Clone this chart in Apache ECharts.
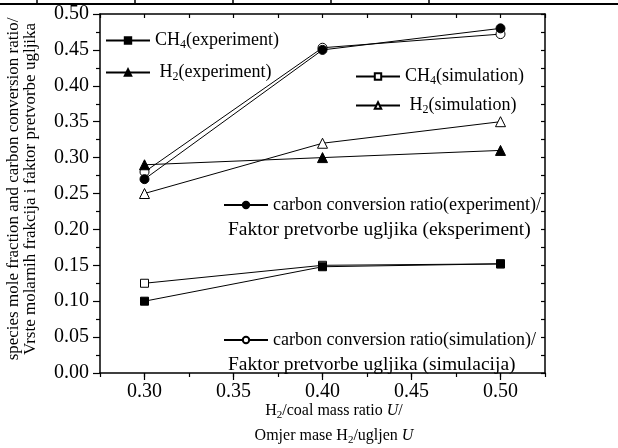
<!DOCTYPE html>
<html>
<head>
<meta charset="utf-8">
<script src="https://cdn.jsdelivr.net/npm/echarts@6/dist/echarts.min.js"></script>
<style>
html, body { margin: 0; padding: 0; background: #fff; }
#chart { width: 618px; height: 448px; }
</style>
</head>
<body>
<div id="chart"></div>
<script>
// H2/coal mass ratio U
const ratios = [0.30, 0.40, 0.50];

// species mole fractions
const ch4Experiment = [0.100, 0.148, 0.152];
const h2Experiment = [0.290, 0.300, 0.310];
const ch4Simulation = [0.125, 0.150, 0.152];
const h2Simulation = [0.250, 0.320, 0.350];

// carbon conversion ratio
const carbonExperiment = [0.270, 0.450, 0.480];
const carbonSimulation = [0.280, 0.453, 0.472];

// labelled ticks on the ratio axis
const xTickValues = [0.30, 0.35, 0.40, 0.45, 0.50];

const FONT = 'Liberation Serif';
const BLACK = '#000';

const rich = {
  t: { fontFamily: FONT, fontSize: 18, color: BLACK, lineHeight: 22 },
  s: { fontFamily: FONT, fontSize: 12, color: BLACK, lineHeight: 22, padding: [9, 0, 0, 0] },
  ti: { fontFamily: FONT, fontSize: 16, color: BLACK, lineHeight: 22 },
  si: { fontFamily: FONT, fontSize: 11, color: BLACK, lineHeight: 22, padding: [8, 0, 0, 0] },
  it: { fontFamily: FONT, fontSize: 16, color: BLACK, fontStyle: 'italic', lineHeight: 22 }
};

const names = {
  ch4Exp: 'CH4(experiment)',
  h2Exp: 'H2(experiment)',
  ch4Sim: 'CH4(simulation)',
  h2Sim: 'H2(simulation)',
  cExp: 'carbon conversion ratio(experiment)/',
  cSim: 'carbon conversion ratio(simulation)/'
};

const legendText = {};
legendText[names.ch4Exp] = '{t|CH}{s|4}{t|(experiment)}';
legendText[names.h2Exp] = '{t| H}{s|2}{t|(experiment)}';
legendText[names.ch4Sim] = '{t|CH}{s|4}{t|(simulation)}';
legendText[names.h2Sim] = '{t| H}{s|2}{t|(simulation)}';
legendText[names.cExp] = '{t|carbon conversion ratio(experiment)/}';
legendText[names.cSim] = '{t|carbon conversion ratio(simulation)/}';

function pairs(vals) {
  return ratios.map((r, i) => [r, vals[i]]);
}

function lineSeries(name, vals, symbol, size, filled) {
  return {
    name: name,
    type: 'line',
    data: pairs(vals),
    symbol: symbol,
    symbolSize: size,
    showSymbol: true,
    lineStyle: { color: BLACK, width: 1 },
    itemStyle: filled
      ? { color: BLACK, borderColor: BLACK, borderWidth: 1 }
      : { color: '#fff', borderColor: BLACK, borderWidth: 1 },
    emphasis: { disabled: true },
    z: filled ? 3 : 2
  };
}

function legendAt(name, left, top) {
  return {
    data: [name],
    left: left,
    top: top,
    orient: 'horizontal',
    itemWidth: 44,
    itemHeight: 8,
    padding: 0,
    selectedMode: false,
    formatter: (n) => legendText[n],
    textStyle: { fontFamily: FONT, fontSize: 18, color: BLACK, rich: rich }
  };
}

const axisLine = { show: true, lineStyle: { color: BLACK, width: 1.5 } };
const tickStyle = { color: BLACK, width: 1.2 };

const option = {
  backgroundColor: '#fff',
  animation: false,
  grid: { left: 100, right: 73, top: 14, bottom: 75 },
  xAxis: [
    {
      type: 'value', position: 'bottom', min: 0.275, max: 0.525, interval: 0.025,
      axisLine: axisLine,
      axisTick: { show: true, inside: false, length: 4, lineStyle: tickStyle },
      axisLabel: { show: false },
      splitLine: { show: false }
    },
    {
      type: 'value', position: 'bottom', min: 0.275, max: 0.525,
      axisLine: { show: false },
      axisTick: { show: true, inside: false, length: 7, customValues: xTickValues, lineStyle: tickStyle },
      axisLabel: {
        show: true, customValues: xTickValues, margin: 9,
        formatter: (v) => v.toFixed(2),
        fontFamily: FONT, fontSize: 20, color: BLACK
      },
      splitLine: { show: false }
    },
    {
      type: 'value', position: 'top', min: 0.275, max: 0.525, interval: 0.025,
      axisLine: axisLine,
      axisTick: { show: true, inside: true, length: 4, lineStyle: tickStyle },
      axisLabel: { show: false },
      splitLine: { show: false }
    }
  ],
  yAxis: [
    {
      type: 'value', position: 'left', min: 0, max: 0.5, interval: 0.05,
      axisLine: axisLine,
      axisTick: { show: true, inside: false, length: 7, lineStyle: tickStyle },
      minorTick: { show: true, splitNumber: 2, length: 4, lineStyle: tickStyle },
      axisLabel: {
        show: true, margin: 11,
        formatter: (v) => v.toFixed(2),
        fontFamily: FONT, fontSize: 20, color: BLACK
      },
      splitLine: { show: false },
      minorSplitLine: { show: false }
    },
    {
      type: 'value', position: 'right', min: 0, max: 0.5, interval: 0.025,
      axisLine: axisLine,
      axisTick: { show: true, inside: true, length: 4, lineStyle: tickStyle },
      axisLabel: { show: false },
      splitLine: { show: false }
    }
  ],
  legend: [
    legendAt(names.ch4Exp, 105, 30),
    legendAt(names.h2Exp, 105, 62),
    legendAt(names.ch4Sim, 355, 66),
    legendAt(names.h2Sim, 355, 95),
    legendAt(names.cExp, 223, 196),
    legendAt(names.cSim, 223, 331)
  ],
  series: [
    lineSeries(names.ch4Exp, ch4Experiment, 'rect', 8, true),
    lineSeries(names.h2Exp, h2Experiment, 'triangle', 10, true),
    lineSeries(names.ch4Sim, ch4Simulation, 'rect', 8, false),
    lineSeries(names.h2Sim, h2Simulation, 'triangle', 10, false),
    lineSeries(names.cExp, carbonExperiment, 'circle', 9, true),
    lineSeries(names.cSim, carbonSimulation, 'circle', 9, false)
  ],
  graphic: [
    // rule across the top edge with its short dividers
    { type: 'line', shape: { x1: 0, y1: 4, x2: 618, y2: 4 }, style: { stroke: BLACK, lineWidth: 2 }, silent: true },
    { type: 'line', shape: { x1: 37, y1: 0, x2: 37, y2: 4 }, style: { stroke: BLACK, lineWidth: 1.5 }, silent: true },
    { type: 'line', shape: { x1: 135, y1: 0, x2: 135, y2: 4 }, style: { stroke: BLACK, lineWidth: 1.5 }, silent: true },
    { type: 'line', shape: { x1: 233, y1: 0, x2: 233, y2: 4 }, style: { stroke: BLACK, lineWidth: 1.5 }, silent: true },
    { type: 'line', shape: { x1: 331, y1: 0, x2: 331, y2: 4 }, style: { stroke: BLACK, lineWidth: 1.5 }, silent: true },
    { type: 'line', shape: { x1: 429, y1: 0, x2: 429, y2: 4 }, style: { stroke: BLACK, lineWidth: 1.5 }, silent: true },
    // second lines of the carbon conversion legend entries
    {
      type: 'text', left: 228, top: 220, silent: true,
      style: { text: 'Faktor pretvorbe ugljika (eksperiment)', fontFamily: FONT, fontSize: 19.5, fill: BLACK }
    },
    {
      type: 'text', left: 228, top: 355, silent: true,
      style: { text: 'Faktor pretvorbe ugljika (simulacija)', fontFamily: FONT, fontSize: 19.5, fill: BLACK }
    },
    // y-axis title
    {
      type: 'text', x: 22, y: 189, rotation: Math.PI / 2, silent: true,
      style: {
        text: 'species mole fraction and carbon conversion ratio/\nVrste molarnih frakcija i faktor pretvorbe ugljika',
        fontFamily: FONT, fontSize: 17, lineHeight: 17, fill: BLACK,
        align: 'center', verticalAlign: 'middle'
      }
    },
    // x-axis title
    {
      type: 'text', x: 334, y: 411, silent: true,
      style: {
        text: '{ti|H}{si|2}{ti|/coal mass ratio }{it|U}{ti|/}',
        rich: rich, align: 'center', verticalAlign: 'middle'
      }
    },
    {
      type: 'text', x: 334, y: 436, silent: true,
      style: {
        text: '{ti|Omjer mase H}{si|2}{ti|/ugljen }{it|U}',
        rich: rich, align: 'center', verticalAlign: 'middle'
      }
    }
  ]
};

const chart = echarts.init(document.getElementById('chart'), null, { renderer: 'canvas' });
chart.setOption(option);
</script>
</body>
</html>
